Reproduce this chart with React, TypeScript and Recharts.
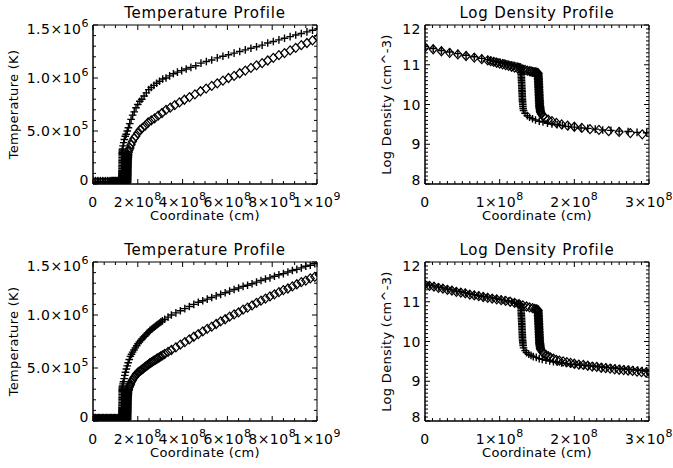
import React from 'react';
import { ScatterChart, Scatter, XAxis, YAxis, ReferenceArea } from 'recharts';

const FONT = "'DejaVu Sans', 'Liberation Sans', sans-serif";

// ---------------- tick labels ----------------
type Lbl = [string, string];
const tempXMajor = [0, 2e8, 4e8, 6e8, 8e8, 1e9];
const tempXLabels: Lbl[] = [['0', ''], ['2×10', '8'], ['4×10', '8'], ['6×10', '8'], ['8×10', '8'], ['1×10', '9']];
const tempYMajor = [0, 5e5, 1e6, 1.5e6];
const tempYLabels: Lbl[] = [['0', ''], ['5.0×10', '5'], ['1.0×10', '6'], ['1.5×10', '6']];
const densXMajor = [0, 1e8, 2e8, 3e8];
const densXLabels: Lbl[] = [['0', ''], ['1×10', '8'], ['2×10', '8'], ['3×10', '8']];
const densYMajor = [8, 9, 10, 11, 12];
const densYLabels: Lbl[] = [['8', ''], ['9', ''], ['10', ''], ['11', ''], ['12', '']];

// ---------------- data (x in 1e8 cm, T in 1e6 K, log n) ----------------
// Top row, "+" series
const topPlusX = [0, 0.11, 0.22, 0.33, 0.44, 0.55, 0.66, 0.76,
  0.84, 0.88, 0.92, 0.95, 0.98, 1.01, 1.04, 1.06, 1.08, 1.10, 1.12, 1.14, 1.16, 1.18, 1.20, 1.22, 1.24, 1.25, 1.26, 1.27, 1.28,
  1.285, 1.286, 1.287, 1.288, 1.289, 1.29, 1.291, 1.292, 1.293, 1.294, 1.295, 1.296, 1.297, 1.298, 1.299, 1.30, 1.301, 1.302, 1.303, 1.304, 1.305, 1.306, 1.308, 1.31, 1.312, 1.315,
  1.32, 1.34, 1.37, 1.40, 1.44, 1.48, 1.53, 1.58, 1.64, 1.70, 1.77, 1.84, 1.92, 2.00, 2.09, 2.18, 2.28, 2.38, 2.49, 2.60, 2.72, 2.84, 2.97, 3.11,
  3.26, 3.42, 3.59, 3.77, 3.96, 4.16, 4.37, 4.59, 4.82, 5.06, 5.30, 5.55, 5.80, 6.05, 6.30, 6.55, 6.80, 7.05, 7.30, 7.55, 7.80, 8.05, 8.30, 8.55, 8.80, 9.05, 9.30, 9.55, 9.80, 10.05];
const topPlusT = [0.02, 0.02, 0.02, 0.02, 0.02, 0.02, 0.02, 0.02,
  0.02, 0.02, 0.02, 0.02, 0.02, 0.02, 0.02, 0.02, 0.02, 0.02, 0.02, 0.02, 0.02, 0.02, 0.02, 0.02, 0.02, 0.02, 0.02, 0.02, 0.02,
  0.02, 0.03, 0.04, 0.05, 0.06, 0.07, 0.08, 0.09, 0.10, 0.11, 0.12, 0.13, 0.145, 0.16, 0.175, 0.19, 0.205, 0.22, 0.235, 0.25, 0.265, 0.28, 0.29, 0.30, 0.31, 0.32,
  0.33, 0.36, 0.39, 0.42, 0.45, 0.47, 0.50, 0.53, 0.57, 0.61, 0.65, 0.68, 0.72, 0.75, 0.78, 0.80, 0.83, 0.86, 0.89, 0.91, 0.93, 0.95, 0.97, 0.99,
  1.00, 1.02, 1.04, 1.055, 1.07, 1.085, 1.10, 1.115, 1.14, 1.155, 1.17, 1.19, 1.205, 1.22, 1.235, 1.25, 1.265, 1.28, 1.295, 1.31, 1.33, 1.345, 1.36, 1.375, 1.39, 1.405, 1.42, 1.435, 1.45, 1.465];
const topPlusN = [11.46, 11.41, 11.36, 11.32, 11.28, 11.24, 11.20, 11.16,
  11.13, 11.11, 11.09, 11.08, 11.07, 11.06, 11.05, 11.04, 11.03, 11.02, 11.01, 11.00, 10.99, 10.985, 10.98, 10.97, 10.96, 10.955, 10.95, 10.945, 10.94,
  10.92, 10.88, 10.84, 10.80, 10.76, 10.72, 10.68, 10.64, 10.60, 10.56, 10.52, 10.48, 10.44, 10.40, 10.36, 10.32, 10.28, 10.24, 10.20, 10.16, 10.12, 10.08, 10.04, 10.00, 9.95, 9.90,
  9.85, 9.78, 9.72, 9.68, 9.64, 9.61, 9.58, 9.56, 9.53, 9.51, 9.49, 9.47, 9.45, 9.43, 9.41, 9.40, 9.38, 9.36, 9.35, 9.33, 9.32, 9.30, 9.29, 9.27,
  9.26];

// Top row, diamond series
const topDiaX = [0, 0.11, 0.22, 0.33, 0.44, 0.55, 0.66, 0.76,
  0.84, 0.88, 0.92, 0.96, 1.00, 1.04, 1.08, 1.12, 1.16, 1.20, 1.24, 1.28, 1.31, 1.34, 1.37, 1.40, 1.42, 1.44, 1.46, 1.48, 1.49, 1.50, 1.51,
  1.515, 1.516, 1.517, 1.518, 1.519, 1.52, 1.521, 1.522, 1.523, 1.524, 1.525, 1.526, 1.527, 1.528, 1.529, 1.53, 1.531, 1.532, 1.533, 1.534, 1.535, 1.537, 1.539, 1.541, 1.543, 1.546,
  1.55, 1.56, 1.58, 1.61, 1.65, 1.70, 1.76, 1.83, 1.91, 2.00, 2.10, 2.21, 2.33, 2.46, 2.60, 2.75, 2.91, 3.08, 3.26,
  3.45, 3.65, 3.86, 4.08, 4.31, 4.55, 4.80, 5.05, 5.30, 5.55, 5.80, 6.05, 6.30, 6.55, 6.80, 7.05, 7.30, 7.55, 7.80, 8.05, 8.30, 8.55, 8.80, 9.05, 9.30, 9.55, 9.80, 10.05];
const topDiaT = [0.02, 0.02, 0.02, 0.02, 0.02, 0.02, 0.02, 0.02,
  0.02, 0.02, 0.02, 0.02, 0.02, 0.02, 0.02, 0.02, 0.02, 0.02, 0.02, 0.02, 0.02, 0.02, 0.02, 0.02, 0.02, 0.02, 0.02, 0.02, 0.02, 0.02, 0.02,
  0.02, 0.03, 0.04, 0.05, 0.06, 0.07, 0.08, 0.09, 0.10, 0.11, 0.12, 0.13, 0.14, 0.15, 0.16, 0.17, 0.18, 0.19, 0.20, 0.21, 0.22, 0.23, 0.24, 0.25, 0.255, 0.26,
  0.27, 0.28, 0.30, 0.32, 0.34, 0.37, 0.40, 0.43, 0.45, 0.48, 0.51, 0.53, 0.55, 0.58, 0.60, 0.62, 0.645, 0.67, 0.70,
  0.72, 0.745, 0.77, 0.795, 0.82, 0.845, 0.875, 0.90, 0.925, 0.95, 0.975, 1.00, 1.02, 1.045, 1.07, 1.095, 1.12, 1.14, 1.165, 1.19, 1.215, 1.235, 1.26, 1.285, 1.31, 1.33, 1.355, 1.38];
const topDiaN = [11.44, 11.39, 11.34, 11.30, 11.26, 11.22, 11.18, 11.14,
  11.11, 11.09, 11.07, 11.05, 11.03, 11.01, 10.99, 10.97, 10.95, 10.93, 10.91, 10.89, 10.88, 10.87, 10.85, 10.84, 10.83, 10.82, 10.815, 10.81, 10.80, 10.795, 10.79,
  10.78, 10.74, 10.70, 10.66, 10.62, 10.58, 10.54, 10.50, 10.46, 10.42, 10.38, 10.34, 10.30, 10.26, 10.22, 10.18, 10.14, 10.10, 10.06, 10.02, 9.98, 9.95, 9.92, 9.89, 9.86, 9.83,
  9.80, 9.76, 9.71, 9.66, 9.62, 9.58, 9.54, 9.50, 9.47, 9.44, 9.41, 9.38, 9.36, 9.33, 9.31, 9.28, 9.25, 9.22, 9.20];

// Bottom row, "+" series
const botPlusX = [0, 0.06, 0.12, 0.18, 0.24, 0.30, 0.36, 0.42, 0.48, 0.54, 0.60, 0.66, 0.72, 0.78, 0.84, 0.90, 0.96, 1.02, 1.07, 1.12, 1.16, 1.20, 1.23, 1.25, 1.27, 1.28,
  1.285, 1.286, 1.287, 1.288, 1.289, 1.29, 1.291, 1.292, 1.293, 1.294, 1.295, 1.296, 1.297, 1.298, 1.299, 1.30, 1.301, 1.302, 1.303, 1.304, 1.305, 1.306, 1.308, 1.31, 1.312, 1.315,
  1.32, 1.34, 1.36, 1.39, 1.42, 1.45, 1.49, 1.53, 1.57, 1.62, 1.67, 1.72, 1.77, 1.83, 1.89, 1.95, 2.01, 2.07, 2.13, 2.19, 2.25, 2.31, 2.37, 2.43, 2.49, 2.55, 2.61, 2.67, 2.73, 2.79, 2.85, 2.91, 2.97, 3.03, 3.10,
  3.20, 3.35, 3.50, 3.70, 3.90, 4.10, 4.30, 4.50, 4.70, 4.90, 5.10, 5.30, 5.50, 5.70, 5.90, 6.10, 6.30, 6.50, 6.70, 6.90, 7.10, 7.30, 7.50, 7.70, 7.90, 8.10, 8.30, 8.50, 8.70, 8.90, 9.10, 9.30, 9.50, 9.70, 9.90, 10.10];
const botPlusT = [0.02, 0.02, 0.02, 0.02, 0.02, 0.02, 0.02, 0.02, 0.02, 0.02, 0.02, 0.02, 0.02, 0.02, 0.02, 0.02, 0.02, 0.02, 0.02, 0.02, 0.02, 0.02, 0.02, 0.02, 0.02, 0.02,
  0.02, 0.03, 0.04, 0.05, 0.06, 0.07, 0.08, 0.09, 0.10, 0.11, 0.12, 0.13, 0.145, 0.16, 0.175, 0.19, 0.205, 0.22, 0.235, 0.25, 0.265, 0.28, 0.29, 0.30, 0.31, 0.32,
  0.33, 0.35, 0.37, 0.40, 0.43, 0.46, 0.49, 0.52, 0.55, 0.58, 0.61, 0.63, 0.65, 0.67, 0.69, 0.71, 0.73, 0.745, 0.76, 0.775, 0.79, 0.80, 0.815, 0.83, 0.84, 0.855, 0.865, 0.875, 0.885, 0.895, 0.905, 0.915, 0.925, 0.935, 0.945,
  0.96, 0.98, 1.00, 1.02, 1.04, 1.06, 1.08, 1.10, 1.12, 1.135, 1.15, 1.165, 1.18, 1.195, 1.21, 1.225, 1.24, 1.255, 1.27, 1.28, 1.295, 1.31, 1.325, 1.34, 1.35, 1.365, 1.38, 1.39, 1.405, 1.42, 1.43, 1.445, 1.46, 1.47, 1.485, 1.50];
const botPlusN = [11.45, 11.42, 11.40, 11.37, 11.35, 11.32, 11.30, 11.27, 11.25, 11.23, 11.20, 11.18, 11.16, 11.14, 11.12, 11.10, 11.08, 11.06, 11.04, 11.02, 11.00, 10.98, 10.96, 10.95, 10.94, 10.93,
  10.90, 10.86, 10.82, 10.78, 10.74, 10.70, 10.66, 10.62, 10.58, 10.54, 10.50, 10.46, 10.42, 10.38, 10.34, 10.30, 10.26, 10.22, 10.18, 10.14, 10.10, 10.06, 10.02, 9.98, 9.94, 9.90,
  9.84, 9.77, 9.72, 9.68, 9.65, 9.62, 9.60, 9.57, 9.55, 9.53, 9.51, 9.49, 9.48, 9.46, 9.45, 9.43, 9.42, 9.41, 9.40, 9.39, 9.38, 9.37, 9.36, 9.35, 9.34, 9.33, 9.32, 9.31, 9.30, 9.29, 9.28, 9.27, 9.26, 9.25, 9.24];

// Bottom row, diamond series
const botDiaX = [0, 0.06, 0.12, 0.18, 0.24, 0.30, 0.36, 0.42, 0.48, 0.54, 0.60, 0.66, 0.72, 0.78, 0.84, 0.90, 0.96, 1.02, 1.08, 1.14, 1.20, 1.26, 1.31, 1.36, 1.40, 1.44, 1.47, 1.49, 1.50, 1.51,
  1.515, 1.516, 1.517, 1.518, 1.519, 1.52, 1.521, 1.522, 1.523, 1.524, 1.525, 1.526, 1.527, 1.528, 1.529, 1.53, 1.531, 1.532, 1.533, 1.534, 1.535, 1.537, 1.539, 1.541, 1.543, 1.546,
  1.55, 1.57, 1.59, 1.62, 1.65, 1.68, 1.72, 1.76, 1.80, 1.85, 1.90, 1.95, 2.00, 2.06, 2.12, 2.18, 2.24, 2.30, 2.36, 2.42, 2.48, 2.54, 2.60, 2.66, 2.72, 2.78, 2.84, 2.90, 2.96, 3.02, 3.10,
  3.20, 3.35, 3.50, 3.70, 3.90, 4.10, 4.30, 4.50, 4.70, 4.90, 5.10, 5.30, 5.50, 5.70, 5.90, 6.10, 6.30, 6.50, 6.70, 6.90, 7.10, 7.30, 7.50, 7.70, 7.90, 8.10, 8.30, 8.50, 8.70, 8.90, 9.10, 9.30, 9.50, 9.70, 9.90, 10.10];
const botDiaT = [0.02, 0.02, 0.02, 0.02, 0.02, 0.02, 0.02, 0.02, 0.02, 0.02, 0.02, 0.02, 0.02, 0.02, 0.02, 0.02, 0.02, 0.02, 0.02, 0.02, 0.02, 0.02, 0.02, 0.02, 0.02, 0.02, 0.02, 0.02, 0.02, 0.02,
  0.02, 0.03, 0.04, 0.05, 0.06, 0.07, 0.08, 0.09, 0.10, 0.11, 0.12, 0.13, 0.14, 0.15, 0.16, 0.17, 0.18, 0.19, 0.20, 0.21, 0.22, 0.23, 0.24, 0.25, 0.255, 0.26,
  0.27, 0.285, 0.30, 0.32, 0.335, 0.35, 0.37, 0.385, 0.40, 0.415, 0.43, 0.445, 0.455, 0.465, 0.475, 0.485, 0.495, 0.505, 0.515, 0.525, 0.535, 0.545, 0.553, 0.561, 0.569, 0.577, 0.585, 0.593, 0.601, 0.609, 0.619,
  0.632, 0.652, 0.67, 0.695, 0.72, 0.745, 0.77, 0.795, 0.82, 0.845, 0.87, 0.89, 0.915, 0.94, 0.96, 0.985, 1.005, 1.025, 1.05, 1.07, 1.09, 1.115, 1.135, 1.155, 1.175, 1.195, 1.215, 1.235, 1.25, 1.27, 1.29, 1.31, 1.325, 1.345, 1.36, 1.38];
const botDiaN = [11.43, 11.40, 11.38, 11.35, 11.33, 11.30, 11.28, 11.25, 11.23, 11.21, 11.18, 11.16, 11.14, 11.12, 11.10, 11.08, 11.06, 11.04, 11.02, 11.00, 10.97, 10.94, 10.91, 10.88, 10.86, 10.84, 10.82, 10.81, 10.80, 10.79,
  10.78, 10.74, 10.70, 10.66, 10.62, 10.58, 10.54, 10.50, 10.46, 10.42, 10.38, 10.34, 10.30, 10.26, 10.22, 10.18, 10.14, 10.10, 10.06, 10.02, 9.98, 9.95, 9.92, 9.89, 9.86, 9.83,
  9.80, 9.74, 9.70, 9.66, 9.63, 9.60, 9.57, 9.54, 9.52, 9.50, 9.48, 9.46, 9.44, 9.42, 9.41, 9.39, 9.37, 9.36, 9.34, 9.33, 9.32, 9.30, 9.29, 9.28, 9.27, 9.26, 9.24, 9.23, 9.22, 9.21, 9.20];

type Pt = { x: number; y: number };
const toPts = (xs: number[], ys: number[], ySc: number): Pt[] =>
  ys.map((v, i) => ({ x: xs[i] * 1e8, y: v * ySc })).filter((p) => Number.isFinite(p.x));

const range = (a: number, b: number, s: number) =>
  Array.from({ length: Math.round((b - a) / s) + 1 }, (_, i) => a + i * s);

// ---------------- marker shapes ----------------
const PlusShape = (p: any) => {
  if (p.cx == null || p.cy == null) return <g />;
  const { cx, cy } = p;
  return <path d={`M${cx - 3.8},${cy}H${cx + 3.8}M${cx},${cy - 3.8}V${cy + 3.8}`} stroke="#000" strokeWidth={1.4} fill="none" />;
};
const DiamondShape = (p: any) => {
  if (p.cx == null || p.cy == null) return <g />;
  const { cx, cy } = p;
  return <path d={`M${cx},${cy - 4.5}L${cx + 4},${cy}L${cx},${cy + 4.5}L${cx - 4},${cy}Z`} stroke="#000" strokeWidth={1.2} fill="none" />;
};

const Txt = (p: any) => (
  <text x={p.tx} y={p.ty} textAnchor="middle" fontFamily={FONT} fontSize={p.fs} letterSpacing={p.ls} fill="#000"
    transform={p.rot ? `rotate(-90 ${p.tx} ${p.ty})` : undefined}>{p.text}</text>
);

const Decor = (p: any) => (
  <g>
    <Txt tx={p.titleX} ty={p.titleY} fs={15} ls={0.8} text={p.title} />
    <Txt tx={p.yTitleX} ty={p.yTitleY} fs={13} ls={0.3} text={p.yTitle} rot />
  </g>
);

interface PanelProps {
  left: number; top: number; width: number; height: number;
  mTop: number; mRight: number; yAxisW: number; xAxisH: number;
  xDomain: [number, number]; yDomain: [number, number];
  xMajor: number[]; xLabels: Lbl[]; xMinor: number;
  yMajor: number[]; yLabels: Lbl[]; yMinor: number;
  title: string; yTitle: string; yTitleX: number;
  plus: Pt[]; diamond: Pt[];
}

function Panel(P: PanelProps) {
  const pl = P.yAxisW, pr = P.width - P.mRight, pt = P.mTop, pb = P.height - P.xAxisH;
  const xTicks = range(P.xDomain[0], P.xDomain[1], P.xMinor);
  const yTicks = range(P.yDomain[0], P.yDomain[1], P.yMinor);

  const renderXTick = (p: any) => {
    const x = p.x; const v = p.payload.value;
    const k = P.xMajor.findIndex((m) => Math.abs(m - v) < P.xMinor * 0.01);
    const len = k >= 0 ? 5 : 3;
    return (
      <g>
        <line x1={x} x2={x} y1={pb} y2={pb - len} stroke="#000" strokeWidth={1} />
        <line x1={x} x2={x} y1={pt} y2={pt + len} stroke="#000" strokeWidth={1} />
        {k >= 0 && (
          <text x={x} y={pb + 23} textAnchor="middle" fontFamily={FONT} fontSize={14} letterSpacing={0.5} fill="#000">
            {P.xLabels[k][0]}
            {P.xLabels[k][1] ? <tspan dy={-7} fontSize={11}>{P.xLabels[k][1]}</tspan> : null}
          </text>
        )}
      </g>
    );
  };

  const renderYTick = (p: any) => {
    const y = p.y; const v = p.payload.value;
    const k = P.yMajor.findIndex((m) => Math.abs(m - v) < P.yMinor * 0.01);
    const len = k >= 0 ? 5 : 3;
    const adj = k === 0 ? -4 : k === P.yMajor.length - 1 ? 4 : 0;
    return (
      <g>
        <line x1={pl} x2={pl + len} y1={y} y2={y} stroke="#000" strokeWidth={1} />
        <line x1={pr} x2={pr - len} y1={y} y2={y} stroke="#000" strokeWidth={1} />
        {k >= 0 && (
          <text x={pl - 4} y={y + 5 + adj} textAnchor="end" fontFamily={FONT} fontSize={14} letterSpacing={0.5} fill="#000">
            {P.yLabels[k][0]}
            {P.yLabels[k][1] ? <tspan dy={-7} fontSize={11}>{P.yLabels[k][1]}</tspan> : null}
          </text>
        )}
      </g>
    );
  };

  return (
    <div style={{ position: 'absolute', left: P.left, top: P.top, width: P.width, height: P.height }}>
      <ScatterChart width={P.width} height={P.height} margin={{ top: P.mTop, right: P.mRight, bottom: 0, left: 0 }}>
        <XAxis dataKey="x" type="number" domain={P.xDomain} allowDataOverflow ticks={xTicks} interval={0}
          tick={renderXTick} tickLine={false} tickSize={0} height={P.xAxisH} axisLine={{ stroke: '#000' }}
          label={<Txt tx={(pl + pr) / 2} ty={pb + 36} fs={13} ls={0.3} text="Coordinate (cm)" />} />
        <YAxis dataKey="y" type="number" domain={P.yDomain} allowDataOverflow ticks={yTicks} interval={0}
          tick={renderYTick} tickLine={false} tickSize={0} width={P.yAxisW} axisLine={{ stroke: '#000' }}
          label={<Decor titleX={(pl + pr) / 2} titleY={pt - 7} title={P.title}
            yTitleX={P.yTitleX} yTitleY={(pt + pb) / 2} yTitle={P.yTitle} />} />
        <ReferenceArea x1={P.xDomain[0]} x2={P.xDomain[1]} y1={P.yDomain[0]} y2={P.yDomain[1]}
          fill="none" fillOpacity={0} stroke="#000" strokeWidth={1} />
        <Scatter data={P.plus} shape={PlusShape} isAnimationActive={false} />
        <Scatter data={P.diamond} shape={DiamondShape} isAnimationActive={false} />
      </ScatterChart>
    </div>
  );
}

export default function App() {
  const tempCommon = {
    xDomain: [0, 1e9] as [number, number], yDomain: [0, 1.5e6] as [number, number],
    xMajor: tempXMajor, xLabels: tempXLabels, xMinor: 0.5e8,
    yMajor: tempYMajor, yLabels: tempYLabels, yMinor: 1e5,
    title: 'Temperature Profile', yTitle: 'Temperature (K)', yTitleX: 18,
    width: 340, height: 234, yAxisW: 93, mRight: 23,
  };
  const densCommon = {
    xDomain: [0, 3e8] as [number, number], yDomain: [8, 12] as [number, number],
    xMajor: densXMajor, xLabels: densXLabels, xMinor: 1e7,
    yMajor: densYMajor, yLabels: densYLabels, yMinor: 0.1,
    title: 'Log Density Profile', yTitle: 'Log Density (cm^-3)', yTitleX: 51,
    width: 333, height: 234, yAxisW: 85, mRight: 24,
  };
  return (
    <div style={{ position: 'absolute', left: 0, top: 0, width: 673, height: 468, background: '#fff', overflow: 'hidden' }}>
      <Panel {...tempCommon} left={0} top={0} mTop={25} xAxisH={50}
        plus={toPts(topPlusX, topPlusT, 1e6)} diamond={toPts(topDiaX, topDiaT, 1e6)} />
      <Panel {...densCommon} left={340} top={0} mTop={25} xAxisH={50}
        plus={toPts(topPlusX, topPlusN, 1)} diamond={toPts(topDiaX, topDiaN, 1)} />
      <Panel {...tempCommon} left={0} top={234} mTop={28} xAxisH={47}
        plus={toPts(botPlusX, botPlusT, 1e6)} diamond={toPts(botDiaX, botDiaT, 1e6)} />
      <Panel {...densCommon} left={340} top={234} mTop={28} xAxisH={47}
        plus={toPts(botPlusX, botPlusN, 1)} diamond={toPts(botDiaX, botDiaN, 1)} />
    </div>
  );
}
